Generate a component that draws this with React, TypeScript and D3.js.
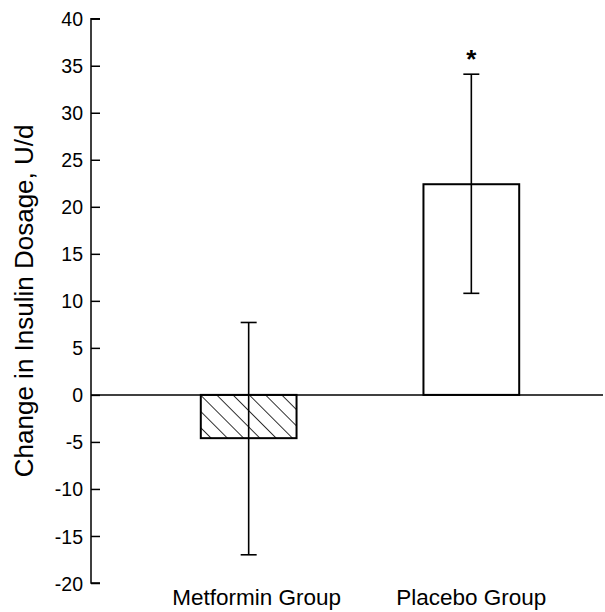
import React, { useRef, useEffect } from "react";
import * as d3 from "d3";

const groups = ["Metformin Group", "Placebo Group"];
const means = [-4.6, 22.4];
const errLow = [-17.0, 10.8];
const errHigh = [7.7, 34.1];
const significant = [false, true];
const yTicks = [40, 35, 30, 25, 20, 15, 10, 5, 0, -5, -10, -15, -20];

const W = 605;
const H = 612;
const FONT = "'Liberation Sans', Arial, Helvetica, sans-serif";

function App() {
  const svgRef = useRef<SVGSVGElement>(null);

  useEffect(() => {
    const svg = d3.select(svgRef.current);
    svg.selectAll("*").remove();

    const axisX = 91;
    const y = d3.scaleLinear().domain([-20, 40]).range([583, 18.7]);
    const x = d3
      .scaleBand()
      .domain(groups)
      .range([134, 586])
      .paddingInner(0.57)
      .paddingOuter(0.3);

    // hatch for the metformin bar, lines running "\"
    const defs = svg.append("defs");
    const pat = defs
      .append("pattern")
      .attr("id", "hatch")
      .attr("patternUnits", "userSpaceOnUse")
      .attr("width", 11.5)
      .attr("height", 11.5)
      .attr("patternTransform", "rotate(-45)");
    pat
      .append("line")
      .attr("x1", 0)
      .attr("y1", 0)
      .attr("x2", 0)
      .attr("y2", 11.5)
      .attr("stroke", "#000")
      .attr("stroke-width", 1.6);

    // y axis
    const yAxis = d3
      .axisRight(y)
      .tickValues(yTicks)
      .tickSize(9)
      .tickFormat((d) => String(d));
    const gy = svg
      .append("g")
      .attr("transform", `translate(${axisX},0)`)
      .call(yAxis);
    gy.select(".domain")
      .attr("d", `M${9},${y(40)}H0V${y(-20)}H9`)
      .attr("stroke", "#000")
      .attr("stroke-width", 1.5);
    gy.selectAll(".tick line").attr("stroke", "#000").attr("stroke-width", 1.5);
    gy.selectAll(".tick text")
      .attr("x", -8)
      .attr("text-anchor", "end")
      .attr("dy", "0.36em")
      .attr("font-family", FONT)
      .attr("font-size", 19.5)
      .attr("fill", "#000");

    // zero line
    svg
      .append("line")
      .attr("x1", axisX)
      .attr("x2", 603)
      .attr("y1", y(0))
      .attr("y2", y(0))
      .attr("stroke", "#000")
      .attr("stroke-width", 1.5);

    const idx = d3.range(groups.length);

    // bars
    svg
      .selectAll(".bar")
      .data(idx)
      .join("rect")
      .attr("class", "bar")
      .attr("x", (i) => x(groups[i])!)
      .attr("width", x.bandwidth())
      .attr("y", (i) => y(Math.max(0, means[i])))
      .attr("height", (i) => Math.abs(y(means[i]) - y(0)))
      .attr("fill", (i) => (means[i] < 0 ? "url(#hatch)" : "#fff"))
      .attr("stroke", "#000")
      .attr("stroke-width", 2);

    // error bars
    const cx = (i: number) => x(groups[i])! + x.bandwidth() / 2;
    const eb = svg.selectAll(".err").data(idx).join("g").attr("class", "err");
    eb.append("line")
      .attr("x1", cx)
      .attr("x2", cx)
      .attr("y1", (i) => y(errHigh[i]))
      .attr("y2", (i) => y(errLow[i]))
      .attr("stroke", "#000")
      .attr("stroke-width", 1.6);
    [errHigh, errLow].forEach((arr) => {
      eb.append("line")
        .attr("x1", (i) => cx(i) - 8)
        .attr("x2", (i) => cx(i) + 8)
        .attr("y1", (i) => y(arr[i]))
        .attr("y2", (i) => y(arr[i]))
        .attr("stroke", "#000")
        .attr("stroke-width", 1.6);
    });

    // asterisk
    svg
      .selectAll(".star")
      .data(idx.filter((i) => significant[i]))
      .join("text")
      .attr("class", "star")
      .attr("x", cx)
      .attr("y", (i) => y(errHigh[i]) - 6)
      .attr("text-anchor", "middle")
      .attr("font-family", FONT)
      .attr("font-weight", "bold")
      .attr("font-size", 26)
      .text("*");

    // category labels
    svg
      .selectAll(".cat")
      .data(groups)
      .join("text")
      .attr("class", "cat")
      .attr("x", (d) => x(d)! + x.bandwidth() / 2 + (d === groups[0] ? 8 : 0))
      .attr("y", 605)
      .attr("text-anchor", "middle")
      .attr("font-family", FONT)
      .attr("font-size", 22.5)
      .text((d) => d);

    // y label
    svg
      .append("text")
      .attr("transform", `translate(33,${(y(40) + y(-20)) / 2}) rotate(-90)`)
      .attr("text-anchor", "middle")
      .attr("font-family", FONT)
      .attr("font-size", 26)
      .text("Change in Insulin Dosage, U/d");
  }, []);

  return (
    <div style={{ position: "absolute", left: 0, top: 0 }}>
      <svg ref={svgRef} width={W} height={H} style={{ display: "block", background: "#fff" }} />
    </div>
  );
}

export default App;
